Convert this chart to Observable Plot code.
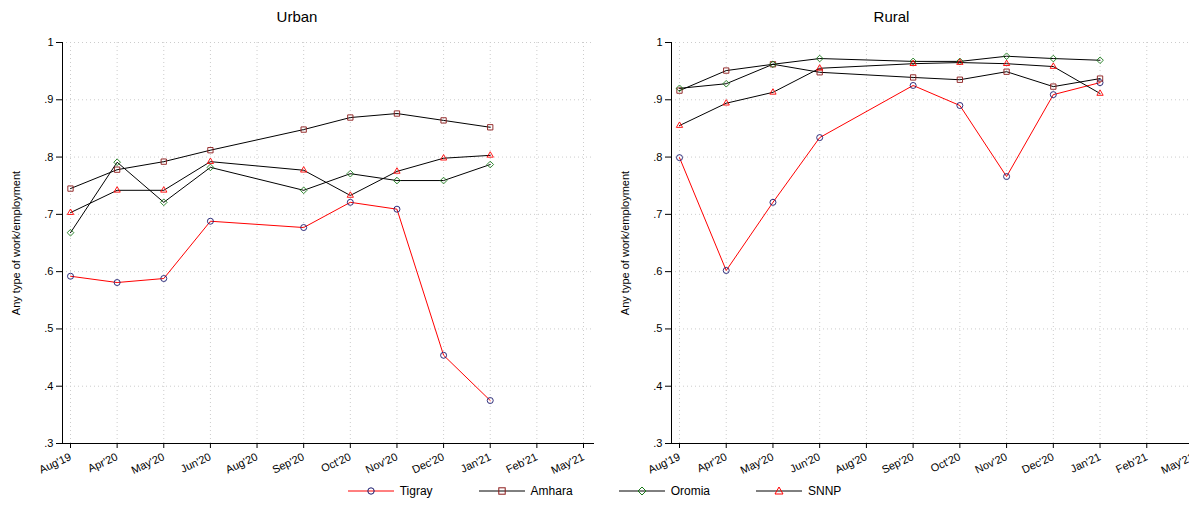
<!DOCTYPE html>
<html><head><meta charset="utf-8">
<script src="https://cdn.jsdelivr.net/npm/d3@7"></script>
<script src="https://cdn.jsdelivr.net/npm/@observablehq/plot@0.6"></script>
<style>
body{margin:0;background:#fff;font-family:"Liberation Sans",Arial,sans-serif;}
#wrap{display:flex;width:1189px;}
.panel{position:relative;}
.ttl{height:28px;line-height:34px;font-size:15px;text-align:center;}
#legend{display:flex;justify-content:center;gap:46px;font-size:12px;margin-top:6px;}
#legend span{display:flex;align-items:center;gap:6px;}
</style></head><body>
<div id="wrap"><div class="panel" id="p1"></div><div class="panel" id="p2"></div></div>
<div id="legend"></div>
<script>
// axis labels (equally spaced)
const months = ["Aug'19","Apr'20","May'20","Jun'20","Aug'20","Sep'20","Oct'20","Nov'20","Dec'20","Jan'21","Feb'21","May'21"]
// rounds with data (index into months)
const rounds = [0,1,2,3,5,6,7,8,9]

const urbanTigray = [.592,.581,.588,.688,.677,.721,.709,.454,.375]
const urbanAmhara = [.745,.778,.792,.812,.848,.869,.876,.864,.852]
const urbanOromia = [.668,.791,.721,.782,.742,.771,.759,.759,.787]
const urbanSNNP   = [.703,.742,.742,.792,.777,.733,.775,.798,.803]

const ruralTigray = [.799,.602,.721,.834,.925,.890,.766,.909,.930]
const ruralAmhara = [.916,.951,.962,.948,.939,.935,.949,.923,.937]
const ruralOromia = [.920,.928,.962,.972,.967,.967,.976,.972,.969]
const ruralSNNP   = [.855,.894,.913,.955,.963,.965,.963,.958,.911]

const regions = ["Tigray","Amhara","Oromia","SNNP"]
const lineCol = {Tigray:"#ff0000",Amhara:"#000",Oromia:"#000",SNNP:"#000"}
const markCol = {Tigray:"#1a1a6e",Amhara:"#8b1a1a",Oromia:"#1a7a1a",SNNP:"#ff0000"}
const symb = {Tigray:"circle",Amhara:"square",Oromia:"diamond2",SNNP:"triangle2"}

function rows(series){
  return regions.flatMap((r,k)=>series[k].map((v,i)=>({region:r,x:rounds[i],y:v})))
}

function panel(title, series, svgW, range, mLeft){
  const data = rows(series)
  const marks = [
    Plot.gridY([.3,.4,.5,.6,.7,.8,.9,1],{stroke:"#ccc",strokeDasharray:"1,3",strokeOpacity:1}),
    Plot.gridX(d3.range(12),{stroke:"#ccc",strokeDasharray:"1,3",strokeOpacity:1}),
    Plot.axisY([.3,.4,.5,.6,.7,.8,.9,1],{tickFormat:d=>d===1?"1":d3.format(".1f")(d).replace(/^0/,""),
      label:"Any type of work/employment",labelAnchor:"center",labelArrow:"none",labelOffset:50,tickSize:6,fontSize:11}),
    Plot.axisX(d3.range(12),{tickFormat:i=>months[i],tickRotate:-25,label:null,tickSize:5,fontSize:11,textAnchor:"end"})
  ]
  for(const r of regions){
    const d = data.filter(e=>e.region===r)
    marks.push(Plot.line(d,{x:"x",y:"y",stroke:lineCol[r],strokeWidth:1}))
    marks.push(Plot.dot(d,{x:"x",y:"y",symbol:symb[r],stroke:markCol[r],fill:"none",r:3,strokeWidth:0.9}))
  }
  marks.push(Plot.ruleY([.3]), Plot.ruleX([0],{dx:-8}))
  return Plot.plot({
    width:svgW,height:450,marginTop:14,marginBottom:35,marginLeft:mLeft,marginRight:0,
    style:{fontFamily:"Liberation Sans, Arial, sans-serif",fontSize:"11px",overflow:"visible"},
    x:{domain:[0,11],range:range},
    y:{domain:[.3,1]},
    marks
  })
}

function mount(id,title,svg){
  const el=document.getElementById(id)
  const t=document.createElement("div");t.className="ttl";t.textContent=title
  el.append(t,svg)
}
mount("p1","Urban",panel("Urban",[urbanTigray,urbanAmhara,urbanOromia,urbanSNNP],594,[70,583],62))
mount("p2","Rural",panel("Rural",[ruralTigray,ruralAmhara,ruralOromia,ruralSNNP],595,[85,599],77))

// legend
const lg=document.getElementById("legend")
const shapes={Tigray:'<circle cx="23" cy="7" r="3.2"/>',Amhara:'<rect x="19.8" y="3.8" width="6.4" height="6.4"/>',
  Oromia:'<path d="M23 3L27 7L23 11L19 7Z"/>',SNNP:'<path d="M23 3L27 10L19 10Z"/>'}
for(const r of regions){
  const s=document.createElement("span")
  s.innerHTML=`<svg width="46" height="14"><line x1="0" x2="46" y1="7" y2="7" stroke="${lineCol[r]}"/><g fill="none" stroke="${markCol[r]}">${shapes[r]}</g></svg>${r}`
  lg.append(s)
}
</script></body></html>
